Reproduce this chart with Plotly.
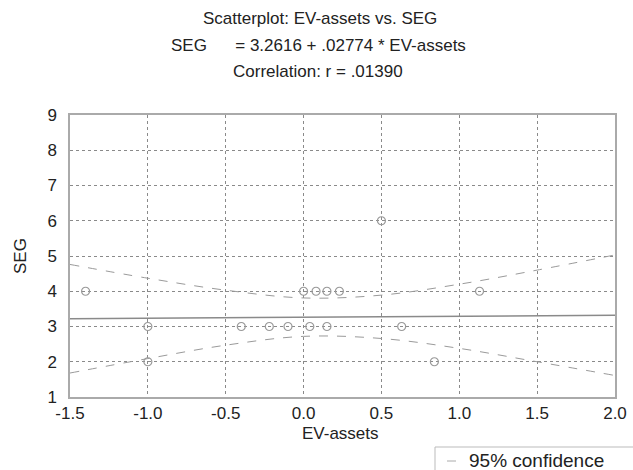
import plotly.graph_objects as go

# Data
ev_assets = [-1.4, -1.0, -1.0, -0.4, -0.22, -0.1, 0.04, 0.15, 0.0, 0.08, 0.15, 0.23, 0.5, 0.63, 0.84, 1.13]
seg = [4, 3, 2, 3, 3, 3, 3, 3, 4, 4, 4, 4, 6, 3, 2, 4]

intercept = 3.2616
slope = 0.02774
fit_x = [-1.5, 2.0]

band_x = [-1.5, -1.0, -0.5, 0.0, 0.5, 1.0, 1.5, 2.0]
band_upper = [4.76, 4.37, 4.03, 3.81, 3.89, 4.20, 4.60, 5.03]
band_lower = [1.68, 2.09, 2.47, 2.72, 2.66, 2.38, 2.00, 1.61]

x_ticks = [-1.5, -1.0, -0.5, 0.0, 0.5, 1.0, 1.5, 2.0]
x_tick_text = ["-1.5", "-1.0", "-0.5", "0.0", "0.5", "1.0", "1.5", "2.0"]
y_ticks = [1, 2, 3, 4, 5, 6, 7, 8, 9]

title_lines = [
    "Scatterplot: EV-assets vs. SEG",
    "SEG&nbsp;&nbsp;&nbsp;&nbsp;&nbsp;&nbsp;= 3.2616 + .02774 * EV-assets",
    "Correlation: r = .01390",
]
legend_label = "95% confidence"

FONT = "Liberation Sans, Arial, sans-serif"
TXT = "#222222"
FS = 17

# plot area in pixels: x 70..615, y 115..397
L, R, T, B = 70, 615, 115, 397
W, H = 633, 470


def px(pix):
    return (pix - L) / (R - L)


def py(pix):
    return (B - pix) / (B - T)


fig = go.Figure()

fig.add_trace(go.Scatter(
    x=band_x, y=band_upper, mode="lines", line=dict(color="#9a9a9a", width=1, dash="dash", shape="spline"),
    showlegend=False, hoverinfo="skip"))
fig.add_trace(go.Scatter(
    x=band_x, y=band_lower, mode="lines", line=dict(color="#9a9a9a", width=1, dash="dash", shape="spline"),
    showlegend=False, hoverinfo="skip"))
fig.add_trace(go.Scatter(
    x=fit_x, y=[intercept + slope * v for v in fit_x], mode="lines",
    line=dict(color="#8a8a8a", width=1.5), showlegend=False))
fig.add_trace(go.Scatter(
    x=ev_assets, y=seg, mode="markers",
    marker=dict(symbol="circle-open", size=8, color="#999999", line=dict(width=1.2)),
    showlegend=False))

annotations = []
for text, (cx, cy) in zip(title_lines, [(320, 18), (318, 45), (318, 72)]):
    annotations.append(dict(text=text, x=px(cx), y=py(cy), xref="paper", yref="paper",
                            xanchor="center", yanchor="middle", showarrow=False,
                            font=dict(size=FS, color=TXT)))
# axis titles
annotations.append(dict(text="EV-assets", x=px(340), y=py(433), xref="paper", yref="paper",
                        xanchor="center", yanchor="middle", showarrow=False,
                        font=dict(size=FS, color=TXT)))
annotations.append(dict(text="SEG", x=px(20), y=py(256), xref="paper", yref="paper",
                        xanchor="center", yanchor="middle", showarrow=False, textangle=-90,
                        font=dict(size=FS, color=TXT)))
# legend text
annotations.append(dict(text=legend_label, x=px(467), y=py(461), xref="paper", yref="paper",
                        xanchor="left", yanchor="middle", showarrow=False,
                        font=dict(size=19, color=TXT)))

shapes = [
    dict(type="rect", xref="paper", yref="paper", x0=px(435), x1=px(640), y0=py(447), y1=py(480),
         line=dict(color="#bbbbbb", width=1), fillcolor="rgba(0,0,0,0)", layer="above"),
    dict(type="line", xref="paper", yref="paper", x0=px(447), x1=px(458), y0=py(461), y1=py(461),
         line=dict(color="#aaaaaa", width=1, dash="dash"), layer="above"),
]

fig.update_layout(
    width=W, height=H,
    margin=dict(l=L, r=W - R, t=T, b=H - B),
    paper_bgcolor="white", plot_bgcolor="white",
    font=dict(family=FONT, size=FS, color=TXT),
    showlegend=False,
    annotations=annotations,
    shapes=shapes,
)

fig.update_xaxes(
    range=[-1.5, 2.0], tickvals=x_ticks, ticktext=x_tick_text,
    showgrid=True, gridcolor="#8a8a8a", griddash="dot", gridwidth=1,
    showline=True, linecolor="#aaaaaa", linewidth=1.5, mirror=True,
    zeroline=False, ticks="", tickfont=dict(size=FS, color=TXT),
    ticklabelstandoff=0, automargin=False,
)
fig.update_yaxes(
    range=[1, 9], tickvals=y_ticks,
    showgrid=True, gridcolor="#8a8a8a", griddash="dot", gridwidth=1,
    showline=True, linecolor="#aaaaaa", linewidth=1.5, mirror=True,
    zeroline=False, ticks="", tickfont=dict(size=FS, color=TXT),
    ticklabelstandoff=8, automargin=False,
)

fig.write_html(
    "out.html",
    config={"displayModeBar": False},
    post_script="document.body.style.margin='0';document.body.style.overflow='hidden';",
)
